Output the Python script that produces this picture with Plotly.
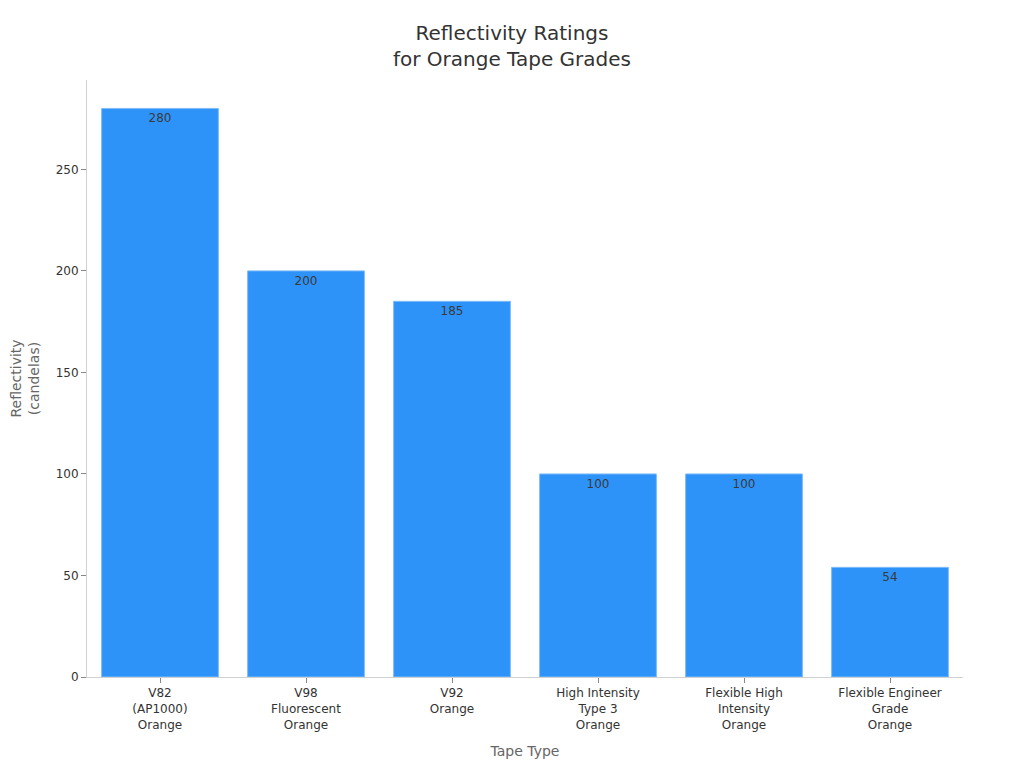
import plotly.graph_objects as go

categories = ["V82<br>(AP1000)<br>Orange", "V98<br>Fluorescent<br>Orange", "V92<br>Orange",
              "High Intensity<br>Type 3<br>Orange", "Flexible High<br>Intensity<br>Orange",
              "Flexible Engineer<br>Grade<br>Orange"]
values = [280, 200, 185, 100, 100, 54]

fig = go.Figure(go.Bar(
    x=categories, y=values, text=values, textposition="inside", insidetextanchor="end",
    textfont=dict(color="#3a3a3a", size=12, family="DejaVu Sans"),
    marker=dict(color="#2E93F9", line=dict(color="#7FBCF7", width=1)),
))
fig.update_layout(
    width=1008, height=752,
    font=dict(family="DejaVu Sans", color="#333333", size=12),
    title=dict(text="Reflectivity Ratings<br>for Orange Tape Grades", x=0.5, xanchor="center",
               y=0.958, font=dict(size=20, color="#333333")),
    paper_bgcolor="white", plot_bgcolor="white",
    margin=dict(l=79, r=53, t=72, b=83),
    bargap=0.2, showlegend=False,
    xaxis=dict(title=dict(text="Tape Type", font=dict(size=14, color="#666666"), standoff=15),
               automargin=False,
               showline=True, linecolor="#d0d0d0", ticks="outside", tickcolor="#888888", ticklen=5),
    yaxis=dict(title=dict(text="Reflectivity<br>(candelas)", font=dict(size=14, color="#666666"),
                          standoff=18),
               automargin=False,
               range=[0, 294], showline=True, linecolor="#d0d0d0", showgrid=False, zeroline=False,
               ticks="outside", tickcolor="#888888", ticklen=5, dtick=50),
)
fig.write_html("out.html")
